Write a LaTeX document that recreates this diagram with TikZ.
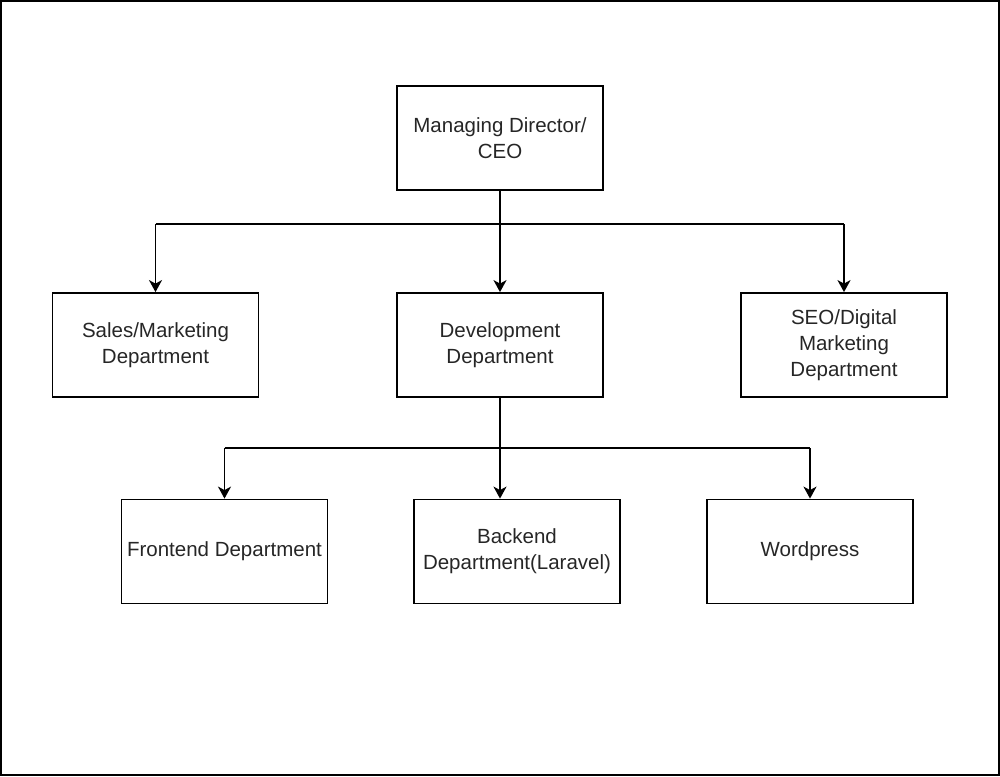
\documentclass[tikz,border=0pt]{standalone}
\usepackage{fontspec}
\setmainfont{Liberation Sans}
\usetikzlibrary{arrows.meta}
\begin{document}
\begin{tikzpicture}[x=1pt,y=-1pt,
  box/.style={draw, line width=1.8pt, minimum width=206pt, minimum height=104pt, inner sep=0pt, align=center, font=\fontsize{20.5}{26}\selectfont, text=black!85},
  conn/.style={line width=1.8pt, -{Stealth[length=12pt,width=13pt,inset=3.5pt]}},
  bus/.style={line width=1.8pt}]
\useasboundingbox (0,0) rectangle (1000,776);
\draw[line width=2pt] (1,1) rectangle (999,775);
\node[box] (ceo) at (500,138) {Managing Director/\\CEO};
\node[box] (sales) at (155.5,345) {Sales/Marketing\\Department};
\node[box] (dev) at (500,345) {Development\\Department};
\node[box] (seo) at (844,345) {SEO/Digital\\Marketing\\Department};
\node[box] (front) at (224.5,551.5) {Frontend Department};
\node[box] (back) at (517,551.5) {Backend\\Department(Laravel)};
\node[box] (wp) at (810,551.5) {Wordpress};
\coordinate (b1) at (500,224);
\coordinate (b2) at (500,448);
\draw[bus] (ceo.south) -- (b1);
\draw[bus] (sales.north |- b1) -- (seo.north |- b1);
\draw[conn] (sales.north |- b1) -- (sales.north);
\draw[conn] (b1) -- (dev.north);
\draw[conn] (seo.north |- b1) -- (seo.north);
\draw[bus] (dev.south) -- (b2);
\draw[bus] (front.north |- b2) -- (wp.north |- b2);
\draw[conn] (front.north |- b2) -- (front.north);
\draw[conn] (b2) -- (b2 |- back.north);
\draw[conn] (wp.north |- b2) -- (wp.north);
\end{tikzpicture}
\end{document}
